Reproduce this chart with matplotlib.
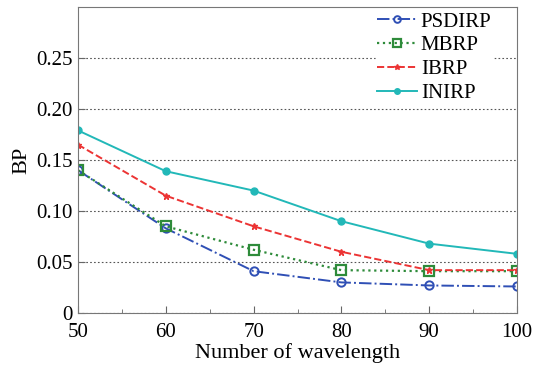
import numpy as np
import matplotlib
matplotlib.use('Agg')
import matplotlib.pyplot as plt
from matplotlib.ticker import MultipleLocator

plt.rcParams['font.family'] = ['Liberation Serif', 'DejaVu Serif']

# data
wavelengths = [50, 60, 70, 80, 90, 100]
psdirp = [0.140, 0.083, 0.041, 0.030, 0.027, 0.026]
mbrp = [0.140, 0.085, 0.062, 0.042, 0.041, 0.041]
ibrp = [0.165, 0.115, 0.085, 0.060, 0.042, 0.042]
inirp = [0.179, 0.139, 0.120, 0.090, 0.068, 0.058]
yticks = [0, 0.05, 0.10, 0.15, 0.20, 0.25]
ytick_labels = ['0', '0.05', '0.10', '0.15', '0.20', '0.25']

fig = plt.figure(figsize=(5.49, 3.73), dpi=100)
ax = fig.add_axes([78 / 549, 1 - 313 / 373, (517 - 78) / 549, (313 - 7) / 373])

ax.plot(wavelengths, psdirp, '-.', color='#2f4fb5', marker='o', mfc='none',
        ms=6, mew=1.4, lw=1.4, label='PSDIRP')
ax.plot(wavelengths, mbrp, ':', color='#2e8b3a', marker='s', mfc='none',
        ms=7, mew=1.6, lw=1.6, label='MBRP')
ax.plot(wavelengths, ibrp, '--', color='#ec3434', marker='*',
        ms=5, lw=1.4, label='IBRP')
ax.plot(wavelengths, inirp, '-', color='#22b8b8', marker='o',
        ms=5, lw=1.4, label='INIRP')

ax.set_xlim(50, 100)
ax.set_ylim(0, 0.3)
ax.set_yticks(yticks)
ax.set_yticklabels(ytick_labels)
ax.xaxis.set_minor_locator(MultipleLocator(5))
ax.tick_params(direction='in', labelsize=15, colors='#666666',
               labelcolor='black', length=5)
ax.tick_params(axis='x', pad=7)
ax.tick_params(axis='y', pad=4)
ax.tick_params(which='minor', direction='in', length=3, colors='#666666')
for s in ax.spines.values():
    s.set_color('#777777')
ax.grid(axis='y', linestyle=(0, (1.5, 2)), color='#555555', lw=0.8)

ax.set_xlabel('Number of wavelength', fontsize=16, labelpad=1)
ax.set_ylabel('BP', fontsize=16, labelpad=3)

leg = ax.legend(loc='upper left', bbox_to_anchor=(376 / 549, 1 - 11 / 373),
                bbox_transform=fig.transFigure, fontsize=15, fancybox=False,
                framealpha=1, handlelength=1.9, markerscale=0.8,
                borderaxespad=0, borderpad=0.05, labelspacing=0.2,
                handletextpad=0.2)
leg.get_frame().set_edgecolor('white')

fig.savefig('out.png', dpi=100)
